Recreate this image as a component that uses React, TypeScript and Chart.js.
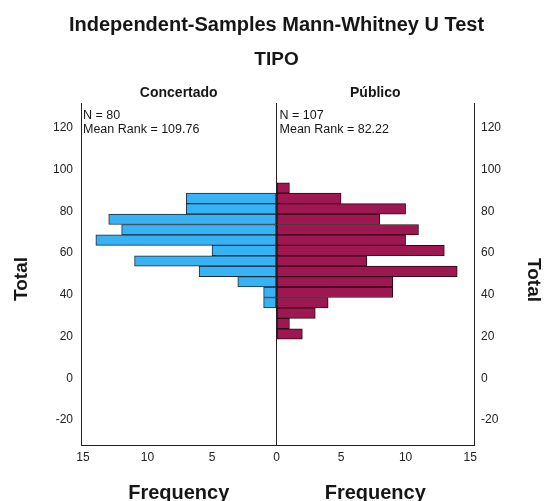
import React, { useEffect, useRef } from "react";
import { Chart, registerables } from "chart.js";

Chart.register(...registerables);

// ---- data ----
const binCenters = [21.25, 26.25, 31.25, 36.25, 41.25, 46.25, 51.25, 56.25, 61.25, 66.25, 71.25, 76.25, 81.25, 86.25, 91.25];
const concertadoFreq = [0, 0, 0, 1, 1, 3, 6, 11, 5, 14, 12, 13, 7, 7, 0];
const publicoFreq = [2, 1, 3, 4, 9, 9, 14, 7, 13, 10, 11, 8, 10, 5, 1];
const yTicks = [-20, 0, 20, 40, 60, 80, 100, 120];
const xTicks = [-15, -10, -5, 0, 5, 10, 15];
const groupNames = ["Concertado", "Público"];
const groupN = [80, 107];
const meanRanks = ["109.76", "82.22"];
const titleText = "Independent-Samples Mann-Whitney U Test";
const subtitleText = "TIPO";
const yTitle = "Total";
const xTitle = "Frequency";

const FF = '"Liberation Sans", Arial, Helvetica, sans-serif';
const INK = "#161616";

const textPlugin = {
  id: "mwText",
  afterDraw(chart: any) {
    const { ctx, chartArea } = chart;
    const x0 = chart.scales.x.getPixelForValue(0);
    const leftC = (chartArea.left + x0) / 2;
    const rightC = (x0 + chartArea.right) / 2;
    ctx.save();
    ctx.fillStyle = INK;
    ctx.textBaseline = "alphabetic";
    ctx.textAlign = "center";
    ctx.font = `bold 20px ${FF}`;
    ctx.fillText(titleText, x0, 31);
    ctx.font = `bold 19px ${FF}`;
    ctx.fillText(subtitleText, x0, 65);
    ctx.font = `bold 14px ${FF}`;
    ctx.fillText(groupNames[0], leftC, 97);
    ctx.fillText(groupNames[1], rightC, 97);

    ctx.textAlign = "left";
    ctx.font = `12.5px ${FF}`;
    ctx.fillText(`N = ${groupN[0]}`, chartArea.left + 2, 119);
    ctx.fillText(`Mean Rank = ${meanRanks[0]}`, chartArea.left + 2, 133);
    ctx.fillText(`N = ${groupN[1]}`, x0 + 3, 119);
    ctx.fillText(`Mean Rank = ${meanRanks[1]}`, x0 + 3, 133);

    ctx.textAlign = "center";
    ctx.font = `bold 20px ${FF}`;
    ctx.fillText(xTitle, leftC, 499);
    ctx.fillText(xTitle, rightC, 499);

    ctx.font = `bold 19px ${FF}`;
    ctx.save();
    ctx.translate(27, 279);
    ctx.rotate(-Math.PI / 2);
    ctx.fillText(yTitle, 0, 0);
    ctx.restore();
    ctx.save();
    ctx.translate(528, 280);
    ctx.rotate(Math.PI / 2);
    ctx.fillText(yTitle, 0, 0);
    ctx.restore();

    ctx.restore();
  },
};

export default function App() {
  const ref = useRef<HTMLCanvasElement | null>(null);

  useEffect(() => {
    if (!ref.current) return;
    const tickFont = { family: FF, size: 12 };
    const setTicks = (vals: number[]) => (scale: any) => {
      scale.ticks = vals.map((v) => ({ value: v }));
    };
    const chart = new Chart(ref.current, {
      type: "bar",
      data: {
        datasets: [
          {
            label: groupNames[0],
            data: binCenters.map((c, i) => ({ x: -concertadoFreq[i], y: c })),
            backgroundColor: "#37b2f5",
            borderColor: "#1f2a33",
            borderWidth: 1,
            borderSkipped: false,
            barPercentage: 1,
            categoryPercentage: 1,
          },
          {
            label: groupNames[1],
            data: binCenters.map((c, i) => ({ x: publicoFreq[i], y: c })),
            backgroundColor: "#9f1750",
            borderColor: "#2a0a16",
            borderWidth: 1,
            borderSkipped: false,
            barPercentage: 1,
            categoryPercentage: 1,
          },
        ],
      },
      options: {
        indexAxis: "y",
        responsive: false,
        animation: false,
        layout: { padding: { top: 103, left: 0, right: 0, bottom: 0 } },
        plugins: {
          legend: { display: false },
          tooltip: { enabled: false },
          title: { display: false },
        },
        scales: {
          x: {
            type: "linear",
            stacked: true,
            offset: false,
            min: -15.15,
            max: 15.3,
            afterBuildTicks: setTicks(xTicks),
            afterFit: (s: any) => {
              s.height = 56;
            },
            ticks: {
              font: tickFont,
              color: "#222",
              padding: 5,
              callback: (v: any) => String(Math.abs(Number(v))),
            },
            grid: {
              drawTicks: false,
              offset: false,
              color: (c: any) => (c.tick && c.tick.value === 0 ? "#222" : "rgba(0,0,0,0)"),
              lineWidth: 1,
            },
            border: { display: true, color: "#222", width: 1 },
          },
          y: {
            type: "linear",
            position: "left",
            stacked: true,
            offset: false,
            min: -32,
            max: 132,
            afterBuildTicks: setTicks(yTicks),
            afterFit: (s: any) => {
              s.width = 81;
            },
            ticks: { font: tickFont, color: "#222", padding: 8 },
            grid: { display: false, drawTicks: false, offset: false },
            border: { display: true, color: "#222", width: 1 },
          },
          y2: {
            type: "linear",
            position: "right",
            offset: false,
            min: -32,
            max: 132,
            afterBuildTicks: setTicks(yTicks),
            afterFit: (s: any) => {
              s.width = 70;
            },
            ticks: { font: tickFont, color: "#222", padding: 7 },
            grid: { display: false, drawTicks: false, offset: false },
            border: { display: true, color: "#222", width: 1 },
          },
        },
      },
      plugins: [textPlugin],
    } as any);
    return () => chart.destroy();
  }, []);

  return (
    <div style={{ position: "fixed", left: 0, top: 0, width: 544, height: 501, background: "#fff" }}>
      <canvas ref={ref} width={544} height={501} style={{ display: "block" }} />
    </div>
  );
}
